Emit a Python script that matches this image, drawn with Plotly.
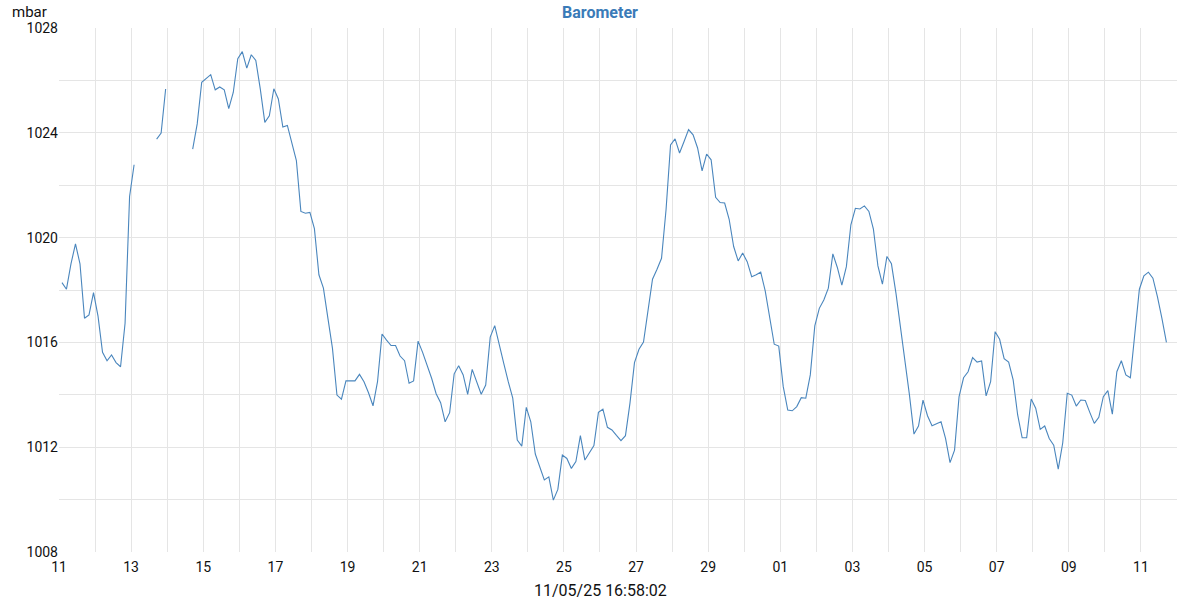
import pandas as pd
import plotly.graph_objects as go

# 3-hourly readings ending at the timestamp shown (11/05/25 16:58:02)
end_time = "2025-05-11 16:58:02"
pressure_mbar = [
    1018.28, 1018.03, 1019.0, 1019.76, 1019.0, 1016.92, 1017.05, 1017.9, 1017.0, 1015.62,
    1015.3, 1015.52, 1015.23, 1015.07, 1016.73, 1021.57, 1022.78, None, None, None,
    None, 1023.76, 1023.99, 1025.67, None, None, None, None, None, 1023.38,
    1024.34, 1025.93, 1026.09, 1026.22, 1025.64, 1025.75, 1025.64, 1024.92, 1025.54, 1026.83,
    1027.1, 1026.47, 1026.98, 1026.76, 1025.67, 1024.4, 1024.65, 1025.68, 1025.29, 1024.22,
    1024.28, 1023.6, 1022.94, 1021.0, 1020.93, 1020.96, 1020.34, 1018.58, 1018.07, 1016.92,
    1015.78, 1013.99, 1013.83, 1014.53, 1014.53, 1014.53, 1014.78, 1014.5, 1014.08, 1013.58,
    1014.5, 1016.32, 1016.09, 1015.88, 1015.88, 1015.48, 1015.3, 1014.44, 1014.53, 1016.05,
    1015.62, 1015.14, 1014.63, 1014.04, 1013.7, 1012.97, 1013.32, 1014.8, 1015.11, 1014.76,
    1014.02, 1014.97, 1014.5, 1014.02, 1014.37, 1016.2, 1016.64, 1015.97, 1015.2, 1014.5,
    1013.87, 1012.27, 1012.04, 1013.52, 1012.97, 1011.74, 1011.25, 1010.75, 1010.87, 1009.98,
    1010.39, 1011.7, 1011.57, 1011.19, 1011.45, 1012.44, 1011.51, 1011.79, 1012.06, 1013.33,
    1013.45, 1012.76, 1012.66, 1012.45, 1012.25, 1012.44, 1013.68, 1015.23, 1015.74, 1016.01,
    1017.27, 1018.41, 1018.79, 1019.21, 1021.06, 1023.54, 1023.77, 1023.23, 1023.67, 1024.12,
    1023.92, 1023.42, 1022.55, 1023.19, 1022.97, 1021.54, 1021.34, 1021.32, 1020.7, 1019.66,
    1019.11, 1019.41, 1019.08, 1018.51, 1018.58, 1018.68, 1017.97, 1017.0, 1015.93, 1015.86,
    1014.31, 1013.42, 1013.39, 1013.55, 1013.89, 1013.87, 1014.76, 1016.63, 1017.3, 1017.62,
    1018.07, 1019.38, 1018.86, 1018.19, 1018.89, 1020.49, 1021.12, 1021.09, 1021.21, 1021.0,
    1020.32, 1018.92, 1018.22, 1019.28, 1019.0, 1017.88, 1016.6, 1015.3, 1013.99, 1012.5,
    1012.81, 1013.8, 1013.2, 1012.82, 1012.89, 1012.97, 1012.34, 1011.41, 1011.89, 1013.93,
    1014.65, 1014.88, 1015.42, 1015.25, 1015.29, 1013.96, 1014.5, 1016.41, 1016.12, 1015.38,
    1015.25, 1014.57, 1013.23, 1012.36, 1012.36, 1013.84, 1013.49, 1012.68, 1012.81, 1012.33,
    1012.08, 1011.16, 1012.17, 1014.06, 1013.99, 1013.57, 1013.8, 1013.78, 1013.33, 1012.91,
    1013.14, 1013.93, 1014.16, 1013.26, 1014.88, 1015.3, 1014.76, 1014.65, 1016.35, 1018.03,
    1018.54, 1018.68, 1018.45, 1017.75, 1016.92, 1016.0,
]
times = pd.date_range(end=end_time, periods=len(pressure_mbar), freq="3h")

x_start = "2025-04-11 00:00"
x_end = "2025-05-12 00:00"
y_min, y_max = 1008, 1028
title_text = "Barometer"
unit_text = "mbar"
footer_text = "11/05/25 16:58:02"

grid_color = "#e5e5e5"
line_color = "#4a86bd"
title_color = "#3a7bb8"
font_family = "Roboto, 'Liberation Sans', sans-serif"

L, R, T, B = 59, 23, 28, 48
PW, PH = 1200 - L - R, 600 - T - B

fig = go.Figure()
fig.add_trace(go.Scatter(
    x=times, y=pressure_mbar, mode="lines",
    line=dict(color=line_color, width=1.1),
    connectgaps=False, hoverinfo="x+y",
))

fig.update_layout(
    width=1200, height=600,
    margin=dict(l=L, r=R, t=T, b=B, autoexpand=False),
    paper_bgcolor="white", plot_bgcolor="white",
    showlegend=False,
    font=dict(family=font_family, size=14, color="#111111"),
    title=dict(text="<b>" + title_text + "</b>", x=0.5, xanchor="center",
               y=1 - 12 / 600, yanchor="middle", yref="container",
               font=dict(size=16, color=title_color, family=font_family)),
    xaxis=dict(
        type="date", range=[x_start, x_end], automargin=False,
        tick0=x_start, dtick=2 * 86400000, tickformat="%d",
        showgrid=True, gridcolor=grid_color, gridwidth=1,
        minor=dict(dtick=86400000, tick0=x_start, showgrid=True,
                   gridcolor=grid_color, gridwidth=1),
        showline=False, zeroline=False, ticks="", ticklen=0,
        ticklabelstandoff=5,
        tickfont=dict(size=14, color="#111111"),
    ),
    yaxis=dict(
        range=[y_min, y_max], tick0=y_min, dtick=4, automargin=False,
        showgrid=True, gridcolor=grid_color, gridwidth=1,
        minor=dict(dtick=2, showgrid=True, gridcolor=grid_color, gridwidth=1),
        showline=False, zeroline=False, ticks="", ticklen=0,
        tickfont=dict(size=14, color="#111111"),
    ),
    annotations=[
        dict(text=unit_text, xref="paper", yref="paper", x=-(L - 10) / PW, y=1 + 16 / PH,
             xanchor="left", yanchor="middle", showarrow=False,
             font=dict(size=15, color="#111111")),
        dict(text=footer_text, xref="paper", yref="paper", x=(600 - L) / PW, y=-38 / PH,
             xanchor="center", yanchor="middle", showarrow=False,
             font=dict(size=16, color="#111111")),
    ],
)

fig.write_html("out.html", config={"displayModeBar": False},
               post_script="document.body.style.margin='0';")
